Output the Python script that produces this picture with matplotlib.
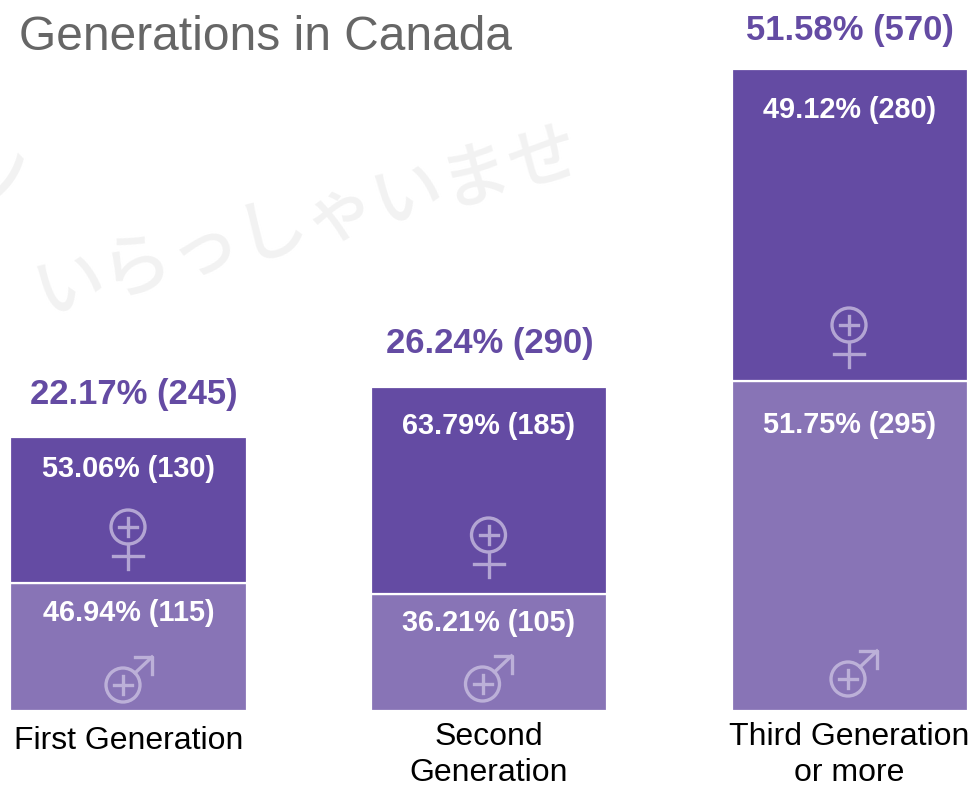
import matplotlib
matplotlib.use("Agg")
import matplotlib.pyplot as plt
from matplotlib.patches import Circle
from matplotlib.lines import Line2D

categories = ["First Generation", "Second\nGeneration", "Third Generation\nor more"]
female = [130, 185, 280]
male = [115, 105, 295]
total_labels = ["22.17% (245)", "26.24% (290)", "51.58% (570)"]
female_labels = ["53.06% (130)", "63.79% (185)", "49.12% (280)"]
male_labels = ["46.94% (115)", "36.21% (105)", "51.75% (295)"]

DARK = "#644ba3"
LIGHT = "#8874b6"
SYMBOL_F = "#b3a5d3"
SYMBOL_M = "#bcb0d8"
FONT = "Liberation Sans"

W, H = 970, 787
fig = plt.figure(figsize=(W / 100, H / 100), dpi=100)
ax = fig.add_axes([0, 0, 1, 1])
ax.set_axis_off()

# full-figure axes: x is the category index, y is the count
PX_PER_UNIT = 1.117
BASE_PX = 711
CENTER0, STEP = 128.5, 360.5
ax.set_xlim((0 - CENTER0) / STEP, (W - CENTER0) / STEP)
ax.set_ylim(-(H - BASE_PX) / PX_PER_UNIT, BASE_PX / PX_PER_UNIT)


def px(n):
    return n / STEP


def py(n):
    return n / PX_PER_UNIT


# watermark
WM_FONT = ["Noto Sans CJK JP", "DejaVu Sans"]
ax.text(px(307 - CENTER0), py(BASE_PX - 222), "いらっしゃいませ", rotation=15,
        rotation_mode="anchor", ha="center", va="center", fontsize=50.5,
        color="#f2f2f2", family=WM_FONT, fontweight="medium", zorder=0)
ax.text(px(-2 - CENTER0), py(BASE_PX - 178), "ン", rotation=15,
        rotation_mode="anchor", ha="center", va="center", fontsize=50.5,
        color="#f2f2f2", family=WM_FONT, fontweight="medium", zorder=0)

xs = list(range(len(categories)))
tops = [m + f for m, f in zip(male, female)]
bar_w = 236 / STEP
ax.bar(xs, male, width=bar_w, color=LIGHT, edgecolor="white", linewidth=1.6, zorder=2)
ax.bar(xs, female, width=bar_w, bottom=male, color=DARK, edgecolor="white", linewidth=1.6, zorder=2)

ax.text(px(19 - CENTER0), py(BASE_PX - 38), "Generations in Canada", fontsize=34.5,
        color="#666666", family=FONT, ha="left", va="center", zorder=3)

total_gap = [43, 44, 38]
total_shift = [5.5, 0.5, 0]
female_gap = [32, 39, 41]
male_gap = [30, 29, 44]
for i in xs:
    ax.text(i + px(total_shift[i]), tops[i] + py(total_gap[i]), total_labels[i], ha="center", va="center",
            fontsize=24.9, fontweight="bold", color=DARK, family=FONT, zorder=3)
    ax.text(i, tops[i] - py(female_gap[i]), female_labels[i], ha="center", va="center",
            fontsize=20.8, fontweight="bold", color="white", family=FONT, zorder=3)
    ax.text(i, male[i] - py(male_gap[i]), male_labels[i], ha="center", va="center",
            fontsize=20.8, fontweight="bold", color="white", family=FONT, zorder=3)

label_y = [741, 755, 755]
for i, c in enumerate(categories):
    ax.text(i, py(BASE_PX - label_y[i]), c, ha="center", va="center", fontsize=23,
            color="black", family=FONT, linespacing=1.25, zorder=3)


def plus(cx, cy, color):
    ax.add_line(Line2D([cx - px(9), cx + px(9)], [cy, cy], color=color, lw=2.4, zorder=4))
    ax.add_line(Line2D([cx, cx], [cy - py(9), cy + py(9)], color=color, lw=2.4, zorder=4))


def ring(cx, cy, color):
    shift = matplotlib.transforms.Affine2D().translate(*ax.transData.transform((cx, cy)))
    ax.add_patch(Circle((0, 0), 17, fill=False, ec=color, lw=2.4, zorder=4, transform=shift))


def female_symbol(i, y_px):
    cx, cy = i - px(0.5), py(BASE_PX - y_px)
    ring(cx, cy, SYMBOL_F)
    plus(cx, cy, SYMBOL_F)
    ax.add_line(Line2D([cx, cx], [cy - py(17), cy - py(42)], color=SYMBOL_F, lw=2.4, zorder=4))
    ax.add_line(Line2D([cx - px(15), cx + px(15)], [cy - py(29), cy - py(29)], color=SYMBOL_F, lw=2.4, zorder=4))


def male_symbol(i, x_off, y_px):
    cx, cy = i + px(x_off), py(BASE_PX - y_px)
    ring(cx, cy, SYMBOL_M)
    plus(cx, cy, SYMBOL_M)
    tipx, tipy = cx + px(29), cy + py(28)
    ax.add_line(Line2D([cx + px(12), tipx], [cy + py(12), tipy], color=SYMBOL_M, lw=2.4, zorder=4))
    ax.add_line(Line2D([tipx - px(17), tipx, tipx], [tipy, tipy, tipy - py(17)], color=SYMBOL_M, lw=2.4, zorder=4))


for i, y in zip(xs, [527, 535, 325]):
    female_symbol(i, y)
for i, off, y in zip(xs, [-5.5, -6.5, -1.5], [685, 684, 679]):
    male_symbol(i, off, y)

fig.savefig("out.png", dpi=100, facecolor="white")
